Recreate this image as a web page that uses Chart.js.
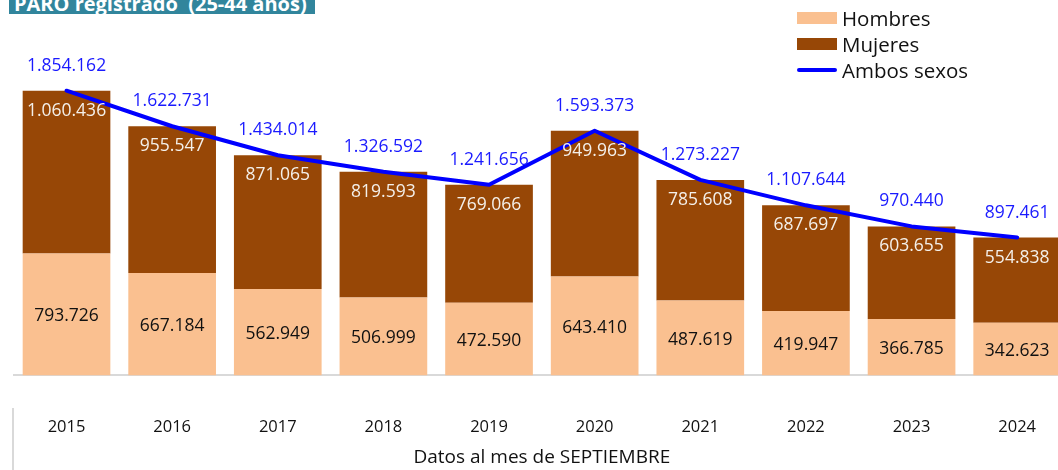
<!DOCTYPE html>
<html lang="es">
<head>
<meta charset="utf-8">
<title>PARO registrado (25-44 años)</title>
<script src="https://cdn.jsdelivr.net/npm/chart.js@4.4.1/dist/chart.umd.min.js"></script>
<style>
    html, body { margin: 0; padding: 0; background: #fff; overflow: hidden; }
    body { width: 1058px; height: 470px; position: relative; font-family: 'Open Sans', sans-serif; }
    #wrap { position: absolute; left: 0; top: 0; width: 1072px; height: 470px; }
    #titulo {
        position: absolute; left: 9px; top: -16px; width: 306px; height: 30px; overflow: hidden;
        background: #31859c; color: #fff; font-weight: bold; font-size: 20px;
        line-height: 39px; padding-left: 5px; box-sizing: border-box; white-space: pre; z-index: 2;
    }
    #leyenda { position: absolute; left: 797px; top: 5px; z-index: 2; }
    .item { height: 26px; display: flex; align-items: center; font-size: 20.5px; color: #111; }
    .marca { width: 40px; margin-right: 5px; }
</style>
</head>
<body>
<div id="wrap"><canvas id="grafico" width="1072" height="470"></canvas></div>
<div id="titulo">PARO registrado  (25-44 años)</div>
<div id="leyenda"></div>
<script>
    const anios = ['2015', '2016', '2017', '2018', '2019', '2020', '2021', '2022', '2023', '2024'];
    const hombres = [793726, 667184, 562949, 506999, 472590, 643410, 487619, 419947, 366785, 342623];
    const mujeres = [1060436, 955547, 871065, 819593, 769066, 949963, 785608, 687697, 603655, 554838];
    const ambos = [1854162, 1622731, 1434014, 1326592, 1241656, 1593373, 1273227, 1107644, 970440, 897461];

    const COLOR_H = '#fac090';
    const COLOR_M = '#974706';
    const COLOR_A = '#0000ff';

    // separador de miles con punto
    const fmt = v => String(v).replace(/\B(?=(\d{3})+(?!\d))/g, '.');

    // etiquetas de valor dibujadas sobre cada barra / punto
    const etiquetas = {
        id: 'etiquetas',
        afterDatasetsDraw(chart) {
            const ctx = chart.ctx;
            ctx.save();
            ctx.textAlign = 'center';
            ctx.textBaseline = 'middle';
            ctx.font = '17.5px "Open Sans"';
            chart.data.datasets.forEach((ds, i) => {
                const meta = chart.getDatasetMeta(i);
                meta.data.forEach((el, j) => {
                    const v = ds.data[j];
                    let y;
                    if (ds.type === 'line') {
                        ctx.fillStyle = '#1a1aff';
                        y = el.y - 25;
                    } else if (i === 0) {
                        ctx.fillStyle = '#111';
                        y = (el.y + el.base) / 2 + 2;
                    } else {
                        ctx.fillStyle = '#f4f0ea';
                        y = el.y + 20;
                    }
                    ctx.fillText(fmt(v), el.x, y);
                });
            });
            ctx.restore();
        }
    };

    // trazo vertical gris a la izquierda de los años
    const bordeTabla = {
        id: 'bordeTabla',
        afterDraw(chart) {
            const ctx = chart.ctx;
            ctx.save();
            ctx.strokeStyle = '#d9d9d9';
            ctx.lineWidth = 2;
            ctx.beginPath();
            ctx.moveTo(13, 408);
            ctx.lineTo(13, 470);
            ctx.stroke();
            ctx.restore();
        }
    };

    const chart = new Chart(document.getElementById('grafico'), {
        type: 'bar',
        data: {
            labels: anios,
            datasets: [
                { label: 'Hombres', data: hombres, backgroundColor: COLOR_H, stack: 'sexo', order: 2 },
                { label: 'Mujeres', data: mujeres, backgroundColor: COLOR_M, stack: 'sexo', order: 2 },
                {
                    type: 'line', label: 'Ambos sexos', data: ambos, stack: 'total', order: 1,
                    borderColor: COLOR_A, borderWidth: 4, tension: 0, pointRadius: 0,
                    borderJoinStyle: 'round', borderCapStyle: 'round'
                }
            ]
        },
        options: {
            responsive: false,
            animation: false,
            layout: { padding: { left: 13.7, right: 2, top: 0, bottom: 0 } },
            datasets: { bar: { barPercentage: 0.83, categoryPercentage: 1 } },
            plugins: { legend: { display: false }, tooltip: { enabled: false } },
            scales: {
                x: {
                    stacked: true,
                    // marcas invisibles: solo sirven para separar los años de la base
                    grid: { display: true, drawOnChartArea: false, drawTicks: true, tickLength: 42, color: 'rgba(0,0,0,0)' },
                    border: { display: true, color: '#d9d9d9', width: 2 },
                    ticks: { padding: 0, color: '#111', font: { family: 'Open Sans', size: 16.5 } },
                    title: {
                        display: true, text: 'Datos al mes de SEPTIEMBRE', color: '#111',
                        font: { family: 'Open Sans', size: 19 }, padding: { top: 9, bottom: 1 }
                    }
                },
                y: { stacked: true, display: false, min: 0, max: 2445000 }
            }
        },
        plugins: [etiquetas, bordeTabla]
    });

    // leyenda en vertical, arriba a la derecha
    const leyenda = document.getElementById('leyenda');
    chart.data.datasets.forEach(ds => {
        const item = document.createElement('div');
        item.className = 'item';
        const marca = document.createElement('span');
        marca.className = 'marca';
        if (ds.type === 'line') {
            marca.style.height = '4px';
            marca.style.borderRadius = '2px';
            marca.style.background = ds.borderColor;
        } else {
            marca.style.height = '12px';
            marca.style.background = ds.backgroundColor;
        }
        item.appendChild(marca);
        item.appendChild(document.createTextNode(ds.label));
        leyenda.appendChild(item);
    });
</script>
</body>
</html>
